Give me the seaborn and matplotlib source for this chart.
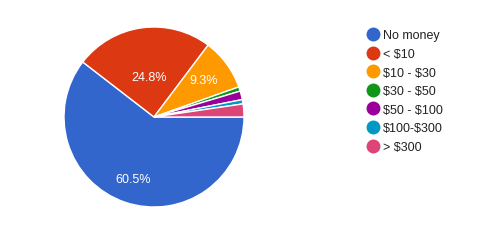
import matplotlib
matplotlib.use("Agg")
import matplotlib.pyplot as plt
from matplotlib.lines import Line2D
import numpy as np
import seaborn as sns

categories = ["No money", "< \\$10", "\\$10 - \\$30", "\\$30 - \\$50", "\\$50 - \\$100", "\\$100-\\$300", "> \\$300"]
counts = [78, 32, 12, 1, 2, 1, 3]
colors = ["#3366cc", "#dc3912", "#ff9900", "#109618", "#990099", "#0099c6", "#dd4477"]
label_dist = [0.73, 0.45, 0.69]

sns.set_style("white")
plt.rcParams['font.family'] = ['Arial', 'Liberation Sans', 'DejaVu Sans']

fig = plt.figure(figsize=(5.03, 2.51), dpi=100)
W, H = 503, 251
cx, cy, r = 154, 118, 90
ax = fig.add_axes([(cx - r) / W, (H - cy - r) / H, 2 * r / W, 2 * r / H])

wedges, texts, autotexts = ax.pie(
    counts, colors=colors, startangle=0, counterclock=False,
    autopct=lambda p: f"{p:.1f}%" if p > 5 else "",
    pctdistance=0.7,
    wedgeprops=dict(edgecolor="white", linewidth=1),
    textprops=dict(color="white", fontsize=9),
)
for i, t in enumerate(autotexts):
    if i < len(label_dist):
        w = wedges[i]
        mid = np.deg2rad((w.theta1 + w.theta2) / 2)
        d = label_dist[i]
        t.set_position((d * np.cos(mid), d * np.sin(mid)))
ax.set_xlim(-1, 1)
ax.set_ylim(-1, 1)
ax.set_aspect("equal")
ax.axis("off")

handles = [Line2D([0], [0], marker="o", linestyle="", markersize=9,
                  markerfacecolor=c, markeredgecolor=c) for c in colors]
leg = fig.legend(handles, categories, loc="upper left",
                 bbox_to_anchor=(359 / W, 1 - 24 / H), frameon=False,
                 fontsize=9, labelspacing=0.53, handletextpad=0.25,
                 handlelength=1.2, borderpad=0)
for t in leg.get_texts():
    t.set_color("#222222")

fig.savefig("out.png", dpi=100, facecolor="white")
